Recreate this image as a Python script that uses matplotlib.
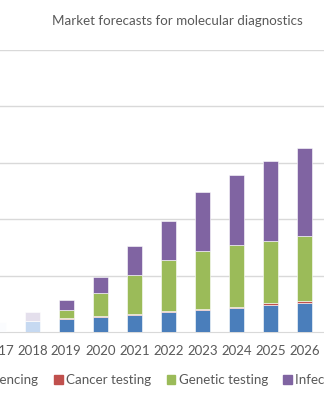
import matplotlib.pyplot as plt
import numpy as np

years = ["2017", "2018", "2019", "2020", "2021", "2022", "2023", "2024", "2025", "2026"]
sequencing = [0.85, 0.98, 1.18, 1.36, 1.51, 1.75, 1.93, 2.16, 2.42, 2.55]
cancer = [0.0, 0.0, 0.09, 0.09, 0.12, 0.12, 0.09, 0.09, 0.12, 0.23]
genetic = [0.0, 0.0, 0.71, 2.04, 3.44, 4.53, 5.20, 5.45, 5.57, 5.75]
infectious = [0.0, 0.80, 0.83, 1.37, 2.58, 3.40, 5.21, 6.18, 7.01, 7.81]
# historical years shown faded
faded = [True, True, False, False, False, False, False, False, False, False]

labels = ["Sequencing", "Cancer testing", "Genetic testing", "Infectious disease"]
colors = ["#4a7ebb", "#c0504d", "#9bbb59", "#8064a2"]
faded_2017 = ["#fbfcfe", "#f4eeee", "#f1f5ea", "#f4f2f7"]
faded_2018 = ["#c6d9f1", "#f2dcdb", "#ebf1de", "#e4dfec"]

plt.rcParams['font.family'] = ['Lato', 'DejaVu Sans']
txt = "#595959"

fig = plt.figure(figsize=(3.24, 4.0), dpi=100)
ax = fig.add_axes([-18.7 / 324, 68 / 400, 357 / 324, 282 / 400])

x = np.arange(len(years))
series = [sequencing, cancer, genetic, infectious]
bottom = np.zeros(len(years))
for k, vals in enumerate(series):
    cols = []
    for i in range(len(years)):
        if i == 0:
            cols.append(faded_2017[k])
        elif faded[i]:
            cols.append(faded_2018[k])
        else:
            cols.append(colors[k])
    ax.bar(x, vals, width=0.43, bottom=bottom, color=cols, edgecolor="white",
           linewidth=0.4, zorder=3)
    bottom += np.array(vals)

ax.set_xlim(-0.5, 10.0)
ax.set_ylim(0, 25)
ax.set_yticks([5, 10, 15, 20, 25])
ax.set_yticklabels([])
ax.grid(axis="y", color="#d9d9d9", linewidth=1.0, zorder=0)
ax.tick_params(length=0, labelsize=9.5, colors=txt, pad=9.5)
ax.set_xticks(x)
ax.set_xticklabels(years)
for s in ["top", "right", "left"]:
    ax.spines[s].set_visible(False)
ax.spines["bottom"].set_color("#d9d9d9")

fig.text(177 / 324, 1 - 21 / 400, "Market forecasts for molecular diagnostics",
         ha="center", va="center", fontsize=9.6, color=txt)

handles = [plt.Rectangle((0, 0), 1, 1, color=c) for c in colors]
fig.legend(handles, labels, loc="center", bbox_to_anchor=(179.5 / 324, 1 - 380 / 400),
           ncol=4, frameon=False, fontsize=9.6, labelcolor=txt,
           handlelength=0.65, handleheight=0.65, handletextpad=0.25, columnspacing=1.15)

fig.savefig("out.png", dpi=100)
